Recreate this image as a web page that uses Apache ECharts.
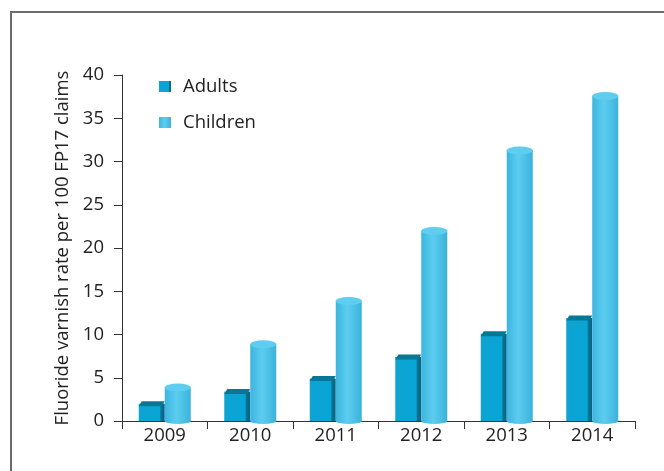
<!DOCTYPE html>
<html>
<head>
<meta charset="utf-8">
<script src="https://cdn.jsdelivr.net/npm/echarts@6/dist/echarts.min.js"></script>
<style>
  html, body { margin: 0; padding: 0; background: #fff; }
  #frame { position: absolute; left: 10px; top: 11px; width: 700px; height: 500px;
           border-left: 2px solid #6b6b6b; border-top: 2px solid #6b6b6b; }
  #main { position: absolute; left: 0; top: 0; width: 664px; height: 471px; }
</style>
</head>
<body>
<div id="frame"></div>
<div id="main"></div>
<script>
var years = ["2009", "2010", "2011", "2012", "2013", "2014"];
var adults = [2.0, 3.4, 4.9, 7.4, 10.1, 11.9];
var children = [3.9, 8.9, 13.9, 22.0, 31.3, 37.6];
var yTicks = { min: 0, max: 40, interval: 5 };

var myChart = echarts.init(document.getElementById("main"));
var font = "'Open Sans', 'Noto Sans', sans-serif";

var adultColor = new echarts.graphic.LinearGradient(0, 0, 1, 0, [
  { offset: 0, color: "#0ea3d2" },
  { offset: 0.8, color: "#07a5d6" },
  { offset: 0.86, color: "#0a6f8e" },
  { offset: 1, color: "#08637f" }
]);
var childColor = new echarts.graphic.LinearGradient(0, 0, 1, 0, [
  { offset: 0, color: "#3cb5de" },
  { offset: 0.45, color: "#5ccdf0" },
  { offset: 1, color: "#3cb2da" }
]);

var option = {
  animation: false,
  grid: { left: 122, right: 29, top: 75, bottom: 50 },
  legend: {
    data: ["Adults", "Children"],
    orient: "vertical",
    left: 154,
    top: 72,
    itemWidth: 12,
    itemHeight: 11,
    itemGap: 17,
    icon: "rect",
    textStyle: { fontSize: 18.5, color: "#222", fontFamily: font, padding: [0, 0, 0, 7] }
  },
  xAxis: {
    type: "category",
    data: years,
    axisLine: { lineStyle: { color: "#333", width: 1 } },
    axisTick: { show: true, length: 8, lineStyle: { color: "#333" } },
    axisLabel: { fontSize: 18.5, color: "#222", fontFamily: font, margin: 5 }
  },
  yAxis: {
    type: "value",
    min: yTicks.min,
    max: yTicks.max,
    interval: yTicks.interval,
    name: "Fluoride varnish rate per 100 FP17 claims",
    nameLocation: "middle",
    nameGap: 48,
    nameTextStyle: { fontSize: 18.5, color: "#222", fontFamily: font },
    axisLine: { show: true, lineStyle: { color: "#333", width: 1 } },
    axisTick: { show: true, length: 8, lineStyle: { color: "#333" } },
    axisLabel: { fontSize: 18.5, color: "#222", fontFamily: font, margin: 18 },
    splitLine: { show: false }
  },
  series: [
    {
      name: "Adults",
      type: "bar",
      barWidth: 26,
      barGap: "0%",
      itemStyle: { color: adultColor },
      data: adults
    },
    {
      name: "Children",
      type: "bar",
      barWidth: 26,
      itemStyle: { color: childColor },
      data: children
    },
    {
      name: "adultTop",
      type: "pictorialBar",
      symbol: "path://M3,0 L26,0 L23,5 L0,5 Z",
      symbolSize: [26, 5],
      symbolPosition: "end",
      symbolOffset: [-13, "-50%"],
      itemStyle: { color: "#087795" },
      z: 3,
      data: adults
    },
    {
      name: "childTop",
      type: "pictorialBar",
      symbol: "circle",
      symbolSize: [26, 8],
      symbolPosition: "end",
      symbolOffset: [13, "-50%"],
      itemStyle: { color: "#5fcdef", borderColor: "#45b9df", borderWidth: 1 },
      z: 3,
      data: children
    },
    {
      name: "childBottom",
      type: "pictorialBar",
      symbol: "circle",
      symbolSize: [26, 6],
      symbolPosition: "start",
      symbolOffset: [13, "50%"],
      itemStyle: { color: childColor },
      z: 1,
      data: children
    }
  ]
};
myChart.setOption(option);
</script>
</body>
</html>
